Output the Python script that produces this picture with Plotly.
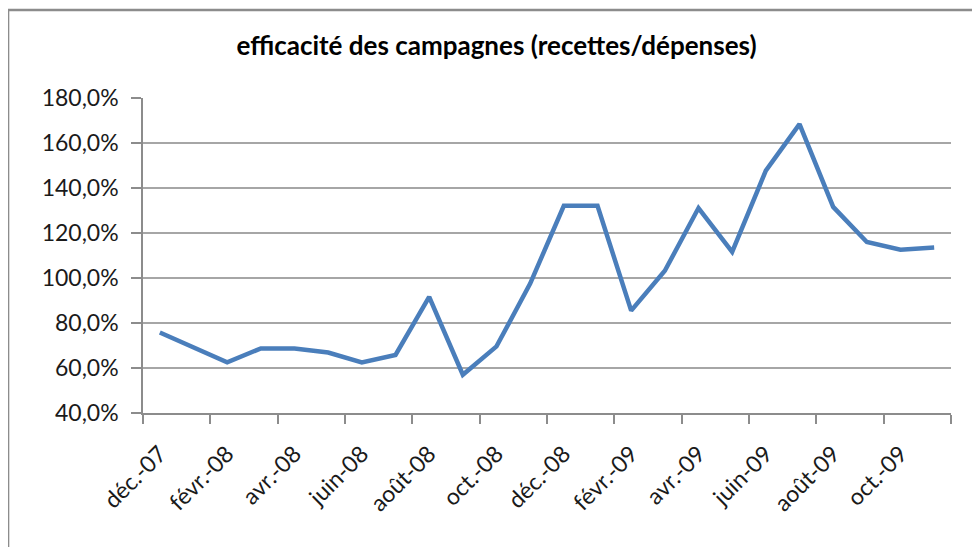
import plotly.graph_objects as go

months = ["déc.-07", "janv.-08", "févr.-08", "mars-08", "avr.-08", "mai-08",
          "juin-08", "juil.-08", "août-08", "sept.-08", "oct.-08", "nov.-08",
          "déc.-08", "janv.-09", "févr.-09", "mars-09", "avr.-09", "mai-09",
          "juin-09", "juil.-09", "août-09", "sept.-09", "oct.-09", "nov.-09"]
efficacite = [0.758, 0.689, 0.625, 0.687, 0.687, 0.669, 0.625, 0.658,
              0.916, 0.570, 0.696, 0.975, 1.321, 1.321, 0.855, 1.032,
              1.311, 1.116, 1.477, 1.684, 1.316, 1.160, 1.126, 1.136]
y_ticks = [0.4, 0.6, 0.8, 1.0, 1.2, 1.4, 1.6, 1.8]

idx = list(range(len(months)))
label_idx = idx[::2]
label_txt = months[::2]
boundaries = [i - 0.5 for i in idx[::2]] + [idx[-1] + 0.5]

FONT = "Lato"
fig = go.Figure()
fig.add_trace(go.Scatter(x=idx, y=efficacite, mode="lines",
                         line=dict(color="#4A7EBB", width=4.5),
                         hoverinfo="skip", showlegend=False))
# invisible trace to activate label axis
fig.add_trace(go.Scatter(x=[idx[0], idx[-1]], y=[efficacite[0], efficacite[-1]],
                         xaxis="x2", mode="lines", line=dict(width=0),
                         opacity=0, hoverinfo="skip", showlegend=False))

fig.update_layout(
    width=980, height=547,
    margin=dict(l=135, r=37, t=90, b=142),
    paper_bgcolor="white", plot_bgcolor="white",
    separators=", ",
    font=dict(family=FONT, size=22, color="#1a1a1a"),
    title=dict(text="<b>efficacité des campagnes (recettes/dépenses)</b>",
               x=0.4985, xanchor="center", y=0.93, yanchor="middle",
               font=dict(family=FONT, size=26, color="#000000")),
    xaxis=dict(range=[-0.5, len(months) - 0.5], tickmode="array",
               tickvals=boundaries, ticktext=[""] * len(boundaries),
               ticks="outside", ticklen=9, tickcolor="#8c8c8c", tickwidth=1.5,
               showgrid=False, showline=True, linecolor="#8c8c8c", linewidth=1.5,
               zeroline=False),
    xaxis2=dict(range=[-0.5, len(months) - 0.5], overlaying="x", anchor="y",
                side="bottom", tickmode="array", tickvals=label_idx,
                ticktext=label_txt, tickangle=-45, ticks="",
                ticklabelstandoff=22,
                showgrid=False, showline=False, zeroline=False,
                tickfont=dict(family=FONT, size=23, color="#1a1a1a")),
    yaxis=dict(range=[0.4, 1.8], tickmode="array", tickvals=y_ticks,
               tickformat=".1%", ticks="outside", ticklen=10,
               tickcolor="#8c8c8c", tickwidth=1.5,
               showgrid=True, gridcolor="#a6a6a6", gridwidth=1.5,
               showline=True, linecolor="#8c8c8c", linewidth=1.5,
               zeroline=False, ticklabelstandoff=8,
               tickfont=dict(family=FONT, size=23, color="#1a1a1a")),
    shapes=[dict(type="rect", xref="paper", yref="paper",
                 x0=-0.167, x1=1.2, y0=-0.6, y1=1.279,
                 line=dict(color="#8c8c8c", width=2.5), layer="above")],
)

fig.write_html("out.html")
